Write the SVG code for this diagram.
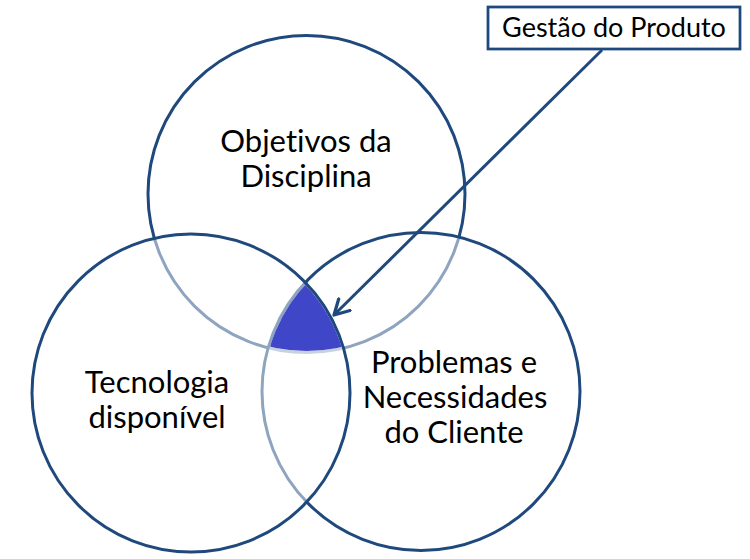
<svg xmlns="http://www.w3.org/2000/svg" width="750" height="559" viewBox="0 0 750 559">
  <style>
    .circ { fill: #ffffff; fill-opacity: 0.5; stroke: #1F497D; stroke-width: 3; }
    .lbl { font-family: Lato, "Open Sans", sans-serif; font-size: 31px; fill: #000000; text-anchor: middle; font-variant-ligatures: none; }
    .conn { stroke: #1F497D; stroke-width: 3; fill: none; }
  </style>
  <defs>
    <marker id="arrow" viewBox="0 0 12 12" refX="10" refY="6" markerWidth="6.5" markerHeight="6.5" markerUnits="strokeWidth" orient="auto">
      <path d="M1,1 L10,6 L1,11" fill="none" stroke="#1F497D" stroke-width="2" stroke-linecap="round" stroke-linejoin="round"/>
    </marker>
    <clipPath id="clipT"><circle cx="306.5" cy="194" r="157"/></clipPath>
    <clipPath id="clipR"><circle cx="421" cy="391.5" r="157.5"/></clipPath>
  </defs>
  <rect width="750" height="559" fill="#ffffff"/>

  <g id="objetivos">
    <circle class="circ" cx="306.5" cy="194" r="158.5"/>
    <text class="lbl" x="306" y="152">Objetivos da</text>
    <text class="lbl" x="306" y="187">Disciplina</text>
  </g>

  <g id="problemas">
    <circle class="circ" cx="421" cy="391.5" r="159"/>
    <text class="lbl" x="454" y="373">Problemas e</text>
    <text class="lbl" x="455" y="408">Necessidades</text>
    <text class="lbl" x="454" y="443">do Cliente</text>
  </g>

  <g id="tecnologia">
    <circle class="circ" cx="191" cy="393" r="159"/>
    <text class="lbl" x="157" y="393">Tecnologia</text>
    <text class="lbl" x="157" y="428">disponível</text>
  </g>

  <g id="intersecao" clip-path="url(#clipT)">
    <circle cx="191" cy="393" r="157.5" fill="#4046C8" clip-path="url(#clipR)"/>
  </g>

  <g id="gestao">
    <rect x="488" y="7" width="252" height="42" fill="#ffffff" stroke="#1F497D" stroke-width="2.75"/>
    <text class="lbl" x="614" y="37" style="font-size:27px">Gestão do Produto</text>
  </g>

  <g id="connectors">
    <path class="conn" d="M602,50 L334,315" marker-end="url(#arrow)"/>
  </g>
</svg>
